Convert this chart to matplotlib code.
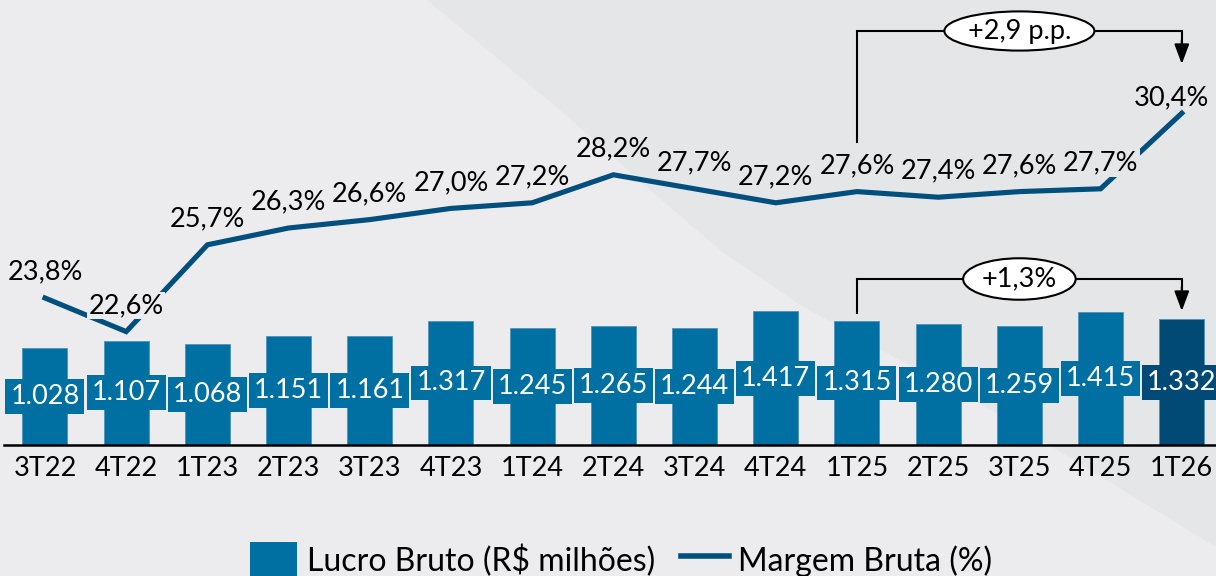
import matplotlib
matplotlib.use("Agg")
import matplotlib.pyplot as plt
from matplotlib.patches import Patch, Polygon
from matplotlib.lines import Line2D
import matplotlib.transforms as mtransforms

plt.rcParams['font.family'] = ['Lato', 'DejaVu Sans']

# ---- data ----
quarters = ["3T22", "4T22", "1T23", "2T23", "3T23", "4T23", "1T24", "2T24",
            "3T24", "4T24", "1T25", "2T25", "3T25", "4T25", "1T26"]
lucro_bruto = [1028, 1107, 1068, 1151, 1161, 1317, 1245, 1265, 1244, 1417,
               1315, 1280, 1259, 1415, 1332]
lucro_labels = ["1.028", "1.107", "1.068", "1.151", "1.161", "1.317", "1.245",
                "1.265", "1.244", "1.417", "1.315", "1.280", "1.259", "1.415",
                "1.332"]
margem = [23.8, 22.6, 25.7, 26.3, 26.6, 27.0, 27.2, 28.2, 27.7, 27.2, 27.6,
          27.4, 27.6, 27.7, 30.4]
margem_labels = ["23,8%", "22,6%", "25,7%", "26,3%", "26,6%", "27,0%", "27,2%",
                 "28,2%", "27,7%", "27,2%", "27,6%", "27,4%", "27,6%", "27,7%",
                 "30,4%"]
delta_margem = "+2,9 p.p."
delta_lucro = "+1,3%"
legend_labels = ["Lucro Bruto (R$ milhões)", "Margem Bruta (%)"]

# ---- style ----
W, H = 1216, 576
BG_LIGHT = "#ECECEE"
BG_DARK = "#E5E6E8"
BAR = "#0070A3"
BAR_LAST = "#004A75"
LINE = "#004F7D"
FS = 19.5

fig = plt.figure(figsize=(W / 100, H / 100), dpi=100, facecolor=BG_LIGHT)

# background shape (pixel coords from top-left)
shape_px = [(427, 0), (560, 110), (650, 190), (720, 250), (800, 305),
            (900, 360), (1000, 415), (1216, 547), (1216, 0)]
poly = Polygon([(x / W, 1 - y / H) for x, y in shape_px], closed=True,
               transform=fig.transFigure, facecolor=BG_DARK, edgecolor='none',
               zorder=-5)
fig.patches.append(poly)

base_px = 445
ax = fig.add_axes([4.4 / W, (H - base_px) / H, (W - 4.4) / W, base_px / H])
ax.set_facecolor('none')
spacing = 81.2
ax.set_xlim(-0.5, -0.5 + (W - 4.4) / spacing)
ax.set_ylim(0, base_px / 0.0943)

x = list(range(len(quarters)))
colors = [BAR] * (len(quarters) - 1) + [BAR_LAST]
bars = ax.bar(x, lucro_bruto, width=45 / spacing, color=colors,
              edgecolor="#4F93BA", linewidth=0.6, zorder=2)
for xi, v, lab, c in zip(x, lucro_bruto, lucro_labels, colors):
    ax.text(xi, v / 2, lab, ha='center', va='center', color='white',
            fontsize=FS, zorder=4,
            bbox=dict(boxstyle='square,pad=0.18', fc=c, ec='none'))

for s in ['top', 'right', 'left']:
    ax.spines[s].set_visible(False)
ax.spines['bottom'].set_linewidth(1.8)
ax.spines['bottom'].set_color('black')
ax.set_yticks([])
ax.set_xticks(x)
ax.set_xticklabels(quarters, fontsize=FS)
ax.tick_params(axis='x', length=0, pad=8)

# margin line on twin axis
ax2 = ax.twinx()
ax2.set_ylim(23.8 - (base_px - 298) / 28, 23.8 + 298 / 28)
ax2.set_axis_off()
ax2.plot(x, margem, color=LINE, lw=3.7, solid_joinstyle='miter', zorder=3)
last = len(x) - 1
for xi, v, lab in zip(x, margem, margem_labels):
    bb = None
    off = (0, 26)
    if lab == "22,6%":
        bb = dict(boxstyle='square,pad=0.05', fc=BG_LIGHT, ec='none')
    if xi == 13:
        bb = dict(boxstyle='square,pad=0.05', fc=BG_DARK, ec='none')
    if xi == last:
        off = (-10, 15)
    ax2.annotate(lab, (xi, v), xytext=off, textcoords='offset pixels',
                 ha='center', va='center', fontsize=FS, zorder=5, bbox=bb)

# brackets
tr = mtransforms.blended_transform_factory(ax.transData, ax.transAxes)
def fy(ypx):
    return (base_px - ypx) / base_px

def bracket(x0, x1, y_start, y_top, y_tip, text, pad):
    ax.plot([x0, x0, x1, x1], [fy(y_start), fy(y_top), fy(y_top), fy(y_tip - 14)],
            color='black', lw=1.5, transform=tr, clip_on=False, zorder=6,
            solid_joinstyle='miter')
    ax.annotate("", xy=(x1, fy(y_tip)), xytext=(x1, fy(y_tip - 24)),
                xycoords=tr, textcoords=tr,
                arrowprops=dict(arrowstyle='-|>,head_length=1.2,head_width=0.45',
                                color='black', lw=1.5, shrinkA=0, shrinkB=0),
                zorder=6)
    ax.text((x0 + x1) / 2, fy(y_top), text, transform=tr, ha='center',
            va='center', fontsize=FS, zorder=7,
            bbox=dict(boxstyle=f'ellipse,pad={pad}', fc='white', ec='black', lw=1.5))

bracket(10, 14, 142, 31, 64, delta_margem, 0.05)
bracket(10, 14, 313, 279, 311, delta_lucro, 0.08)

# legend
handles = [Patch(facecolor=BAR, edgecolor='none'),
           Line2D([0], [0], color=LINE, lw=4)]
fig.legend(handles, legend_labels, loc='center', bbox_to_anchor=(621 / W, 16 / H),
           ncol=2, frameon=False, fontsize=23, handlelength=1.5,
           handleheight=1.35, handletextpad=0.3, columnspacing=0.8)

fig.savefig("out.png", dpi=100, facecolor=BG_LIGHT)
